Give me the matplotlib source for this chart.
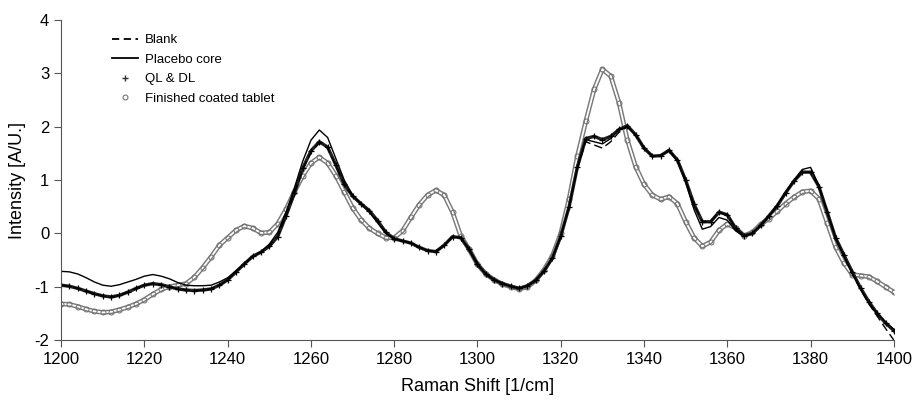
import numpy as np
import matplotlib.pyplot as plt
from matplotlib.lines import Line2D

plt.rcParams['font.family'] = ['Liberation Sans', 'DejaVu Sans']
plt.rcParams['axes.unicode_minus'] = False

# Raman shift, 2 cm-1 steps
shift = np.arange(1200, 1401, 2)

ql_dl = [-0.97, -0.99, -1.03, -1.08, -1.13, -1.17, -1.19, -1.16, -1.10, -1.03,
         -0.97, -0.94, -0.96, -1.00, -1.04, -1.06, -1.07, -1.06, -1.04, -0.97,
         -0.87, -0.72, -0.57, -0.43, -0.35, -0.24, -0.06, 0.33, 0.75, 1.22,
         1.55, 1.72, 1.62, 1.28, 0.92, 0.70, 0.56, 0.43, 0.24, 0.02,
         -0.10, -0.14, -0.18, -0.26, -0.32, -0.34, -0.22, -0.06, -0.08, -0.30,
         -0.58, -0.76, -0.87, -0.94, -0.99, -1.03, -0.98, -0.88, -0.70, -0.46,
         -0.05, 0.50, 1.25, 1.78, 1.82, 1.76, 1.82, 1.95, 2.02, 1.85,
         1.60, 1.45, 1.46, 1.56, 1.38, 1.00, 0.55, 0.22, 0.22, 0.40,
         0.35, 0.10, -0.04, 0.00, 0.15, 0.33, 0.52, 0.76, 0.98, 1.15,
         1.15, 0.88, 0.40, -0.08, -0.40, -0.72, -1.02, -1.28, -1.50, -1.68,
         -1.82]

blank = [-0.97, -0.99, -1.03, -1.08, -1.13, -1.17, -1.19, -1.16, -1.10, -1.03,
         -0.97, -0.94, -0.96, -1.00, -1.04, -1.06, -1.07, -1.06, -1.04, -0.97,
         -0.87, -0.72, -0.57, -0.43, -0.35, -0.24, -0.06, 0.33, 0.75, 1.20,
         1.52, 1.70, 1.60, 1.27, 0.92, 0.70, 0.56, 0.43, 0.24, 0.02,
         -0.10, -0.14, -0.18, -0.26, -0.32, -0.34, -0.22, -0.06, -0.08, -0.30,
         -0.58, -0.76, -0.87, -0.94, -0.99, -1.03, -0.98, -0.88, -0.70, -0.46,
         -0.05, 0.50, 1.22, 1.72, 1.66, 1.60, 1.72, 1.90, 2.00, 1.85,
         1.60, 1.45, 1.46, 1.56, 1.38, 1.00, 0.55, 0.22, 0.22, 0.40,
         0.35, 0.10, -0.04, 0.00, 0.15, 0.33, 0.52, 0.76, 0.98, 1.15,
         1.15, 0.88, 0.40, -0.08, -0.42, -0.75, -1.05, -1.32, -1.55, -1.78,
         -2.00]

placebo = [-0.71, -0.72, -0.76, -0.83, -0.91, -0.97, -0.99, -0.96, -0.91, -0.86,
           -0.80, -0.77, -0.80, -0.85, -0.92, -0.97, -0.98, -0.98, -0.97, -0.91,
           -0.83, -0.70, -0.56, -0.44, -0.34, -0.20, 0.02, 0.40, 0.85, 1.35,
           1.75, 1.94, 1.80, 1.40, 1.00, 0.72, 0.55, 0.40, 0.20, 0.00,
           -0.10, -0.14, -0.18, -0.26, -0.32, -0.34, -0.22, -0.06, -0.08, -0.30,
           -0.58, -0.76, -0.87, -0.94, -0.99, -1.03, -0.98, -0.88, -0.70, -0.46,
           -0.05, 0.50, 1.24, 1.76, 1.72, 1.68, 1.78, 1.95, 2.00, 1.85,
           1.60, 1.45, 1.46, 1.55, 1.36, 0.96, 0.45, 0.08, 0.13, 0.30,
           0.25, 0.05, -0.05, 0.00, 0.15, 0.33, 0.53, 0.78, 1.00, 1.20,
           1.24, 0.90, 0.42, -0.08, -0.42, -0.74, -1.04, -1.30, -1.50, -1.66,
           -1.80]

finished = [-1.32, -1.33, -1.37, -1.42, -1.46, -1.48, -1.47, -1.43, -1.38, -1.32,
            -1.24, -1.14, -1.05, -1.00, -0.97, -0.94, -0.82, -0.64, -0.44, -0.22,
            -0.08, 0.06, 0.14, 0.10, 0.01, 0.02, 0.18, 0.45, 0.78, 1.08,
            1.32, 1.43, 1.32, 1.08, 0.78, 0.48, 0.26, 0.10, 0.00, -0.08,
            -0.08, 0.05, 0.30, 0.54, 0.72, 0.81, 0.72, 0.40, -0.05, -0.30,
            -0.58, -0.76, -0.87, -0.95, -1.00, -1.04, -1.00, -0.88, -0.68, -0.42,
            0.00, 0.65, 1.45, 2.10, 2.70, 3.08, 2.95, 2.45, 1.75, 1.25,
            0.92, 0.72, 0.64, 0.69, 0.56, 0.22, -0.08, -0.24, -0.16, 0.06,
            0.18, 0.10, -0.04, 0.02, 0.17, 0.28, 0.42, 0.56, 0.68, 0.78,
            0.80, 0.65, 0.20, -0.25, -0.55, -0.77, -0.79, -0.81, -0.90, -1.00,
            -1.10]

fig = plt.figure(figsize=(9.13, 4.03), dpi=100)
ax = fig.add_axes([0.067, 0.156, 0.912, 0.794])

# finished coated tablet: chain of open grey circles
ax.plot(shift, finished, color='#7a7a7a', lw=3.4, solid_capstyle='round')
ax.plot(shift, finished, color='white', lw=1.3, solid_capstyle='round')
ax.plot(shift, finished, ls='none', marker='o', ms=3.6, mfc='none',
        mec='#707070', mew=0.7)
# QL & DL: dense + markers
ax.plot(shift, ql_dl, color='#202020', lw=2.4)
ax.plot(shift, ql_dl, ls='none', marker='+', ms=4.5, mew=0.9, color='black')
ax.plot(shift, blank, color='black', lw=1.0, ls=(0, (6, 3)))
ax.plot(shift, placebo, color='black', lw=1.0)

ax.set_xlim(1200, 1400)
ax.set_ylim(-2, 4)
ax.set_xticks(np.arange(1200, 1401, 20))
ax.set_yticks(np.arange(-2, 5, 1))
for s in ['top', 'right']:
    ax.spines[s].set_visible(False)
for s in ['left', 'bottom']:
    ax.spines[s].set_color('#555555')
ax.tick_params(direction='out', length=5, color='#555555', labelsize=12)
ax.set_xlabel('Raman Shift [1/cm]', fontsize=13, labelpad=8)
ax.set_ylabel('Intensity [A/U.]', fontsize=13, labelpad=6)

handles = [
    Line2D([], [], color='black', lw=1.3, ls=(0, (4, 2.5))),
    Line2D([], [], color='black', lw=1.3),
    Line2D([], [], ls='none', marker='+', ms=4, color='#333333'),
    Line2D([], [], ls='none', marker='o', ms=3.5, mfc='white', mec='#777777', mew=0.8),
]
labels = ['Blank', 'Placebo core', 'QL & DL', 'Finished coated tablet']
ax.legend(handles, labels, loc='upper left', bbox_to_anchor=(0.05, 0.985),
          frameon=False, fontsize=9.5, handlelength=2.0, handletextpad=0.5,
          labelspacing=0.55, borderpad=0.2)

fig.savefig('out.png', dpi=100)
